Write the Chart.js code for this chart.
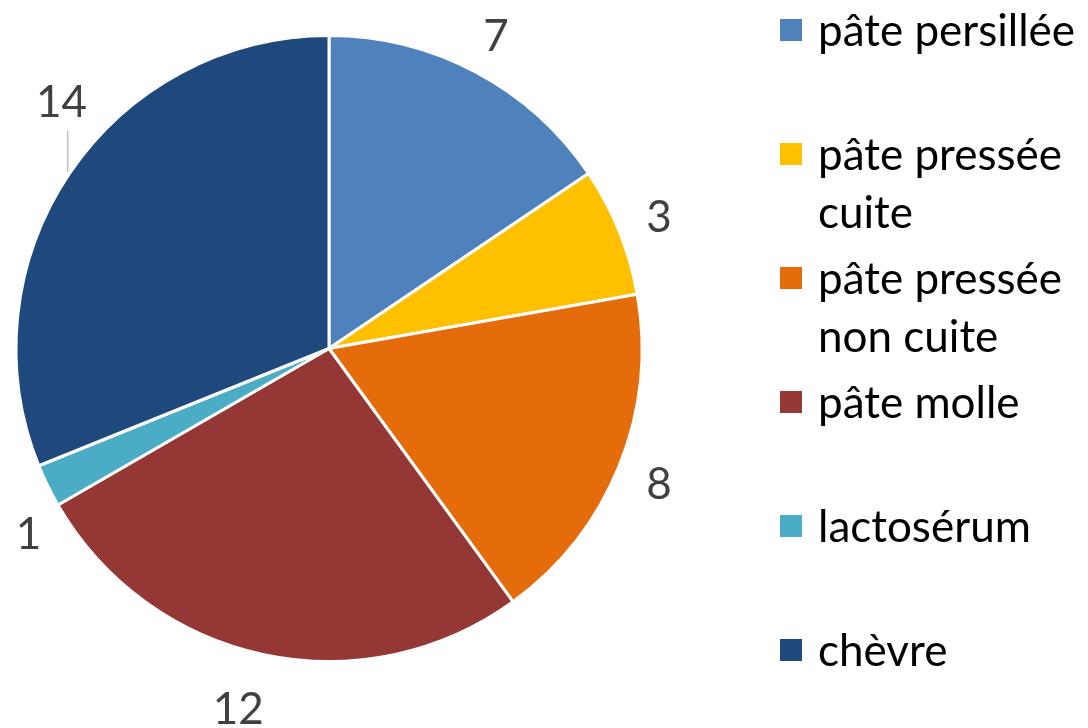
<!DOCTYPE html>
<html>
<head>
<meta charset="utf-8">
<script src="https://cdn.jsdelivr.net/npm/chart.js@4.4.0/dist/chart.umd.min.js"></script>
<style>
  html, body { margin: 0; padding: 0; background: #fff; }
  #wrap { width: 1088px; height: 728px; }
</style>
</head>
<body>
<div id="wrap"><canvas id="myChart" width="1088" height="728"></canvas></div>
<script>
var categories = ["pâte persillée", "pâte pressée cuite", "pâte pressée non cuite", "pâte molle", "lactosérum", "chèvre"];
var values = [7, 3, 8, 12, 1, 14];
var colors = ["#4F81BD", "#FFC000", "#E46C0A", "#953735", "#4BACC6", "#1F497D"];

var FONT = "Lato, 'Open Sans', sans-serif";

// value labels outside the slices; some are nudged (degrees, px) like in the original
var outerLabels = {
    id: 'outerLabels',
    afterDatasetsDraw: function (chart, args, opts) {
        var ctx = chart.ctx;
        var arcs = chart.getDatasetMeta(0).data;
        ctx.save();
        ctx.font = "44px " + FONT;
        ctx.fillStyle = "#404040";
        ctx.textAlign = "center";
        ctx.textBaseline = "middle";
        arcs.forEach(function (arc, i) {
            var nudge = opts.nudges[i] || [0, 0];
            var mid = (arc.startAngle + arc.endAngle) / 2 + nudge[0] * Math.PI / 180;
            var dist = arc.outerRadius + 43 + nudge[1];
            var x = arc.x + Math.cos(mid) * dist;
            var y = arc.y + Math.sin(mid) * dist + 3;
            ctx.fillText(String(values[i]), x, y);
            if (i == opts.leader) {
                ctx.strokeStyle = "#BFBFBF";
                ctx.lineWidth = 1.5;
                ctx.beginPath();
                ctx.moveTo(x + 6, y + 28);
                ctx.lineTo(x + 6, y + 69);
                ctx.stroke();
            }
        });
        ctx.restore();
    }
};

// legend on the right with wrapped names
var sideLegend = {
    id: 'sideLegend',
    afterDraw: function (chart) {
        var ctx = chart.ctx;
        var boxX = 780, textX = 818, top = 30, step = 124, lineH = 58;
        var maxW = chart.width - textX - 2;
        ctx.save();
        ctx.font = "44px " + FONT;
        ctx.textBaseline = "middle";
        ctx.textAlign = "left";
        categories.forEach(function (name, i) {
            var cy = top + i * step;
            ctx.fillStyle = colors[i];
            ctx.fillRect(boxX, cy - 11, 22, 22);
            var words = name.split(" ");
            var lines = [];
            var cur = "";
            words.forEach(function (w) {
                var t = cur ? cur + " " + w : w;
                if (ctx.measureText(t).width > maxW && cur) {
                    lines.push(cur);
                    cur = w;
                } else {
                    cur = t;
                }
            });
            lines.push(cur);
            ctx.fillStyle = "#000000";
            lines.forEach(function (l, k) {
                ctx.fillText(l, textX, cy + 2 + k * lineH);
            });
        });
        ctx.restore();
    }
};

var ctx = document.getElementById('myChart').getContext('2d');
var myChart = new Chart(ctx, {
    type: 'pie',
    data: {
        labels: categories,
        datasets: [{
            data: values,
            backgroundColor: colors,
            borderColor: '#ffffff',
            borderWidth: 3
        }]
    },
    options: {
        responsive: false,
        animation: false,
        layout: {
            padding: { left: 14, top: 34, right: 444, bottom: 65 }
        },
        plugins: {
            legend: { display: false },
            tooltip: { enabled: false },
            outerLabels: {
                nudges: { 3: [2.2, 14], 4: [-5.4, -4], 5: [8.9, 9] },
                leader: 5
            }
        }
    },
    plugins: [outerLabels, sideLegend]
});
</script>
</body>
</html>
